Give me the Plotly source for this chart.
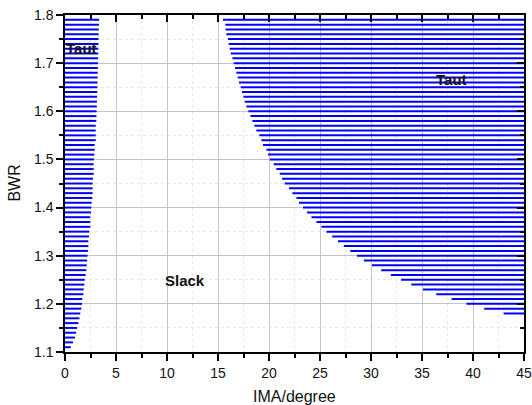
import plotly.graph_objects as go

# ---- data ----
y_left = [round(1.11 + 0.01 * i, 2) for i in range(69)]  # 1.11 .. 1.79
x_left_end = [0.56, 0.78, 0.98, 1.08, 1.18, 1.31, 1.41, 1.50, 1.60, 1.67,
              1.70, 1.80, 1.83, 1.90, 1.93, 2.03, 2.09, 2.13, 2.17, 2.21,
              2.25, 2.29, 2.29, 2.35, 2.38, 2.48, 2.48, 2.48, 2.55, 2.58,
              2.61, 2.68, 2.71, 2.71, 2.71, 2.75, 2.81, 2.81, 2.81, 2.84,
              2.88, 2.91, 2.91, 3.01, 3.01, 3.01, 3.01, 3.07, 3.08, 3.10,
              3.12, 3.13, 3.15, 3.16, 3.17, 3.19, 3.20, 3.21, 3.22, 3.24,
              3.25, 3.26, 3.27, 3.28, 3.29, 3.30, 3.31, 3.33, 3.35]

y_right = [round(1.18 + 0.01 * i, 2) for i in range(62)]  # 1.18 .. 1.79
x_right_start = [43.0, 41.1, 39.35, 37.9, 36.4, 35.1, 33.95, 32.95, 31.95, 31.0,
                 30.1, 29.3, 28.63, 27.97, 27.33, 26.76, 26.2, 25.63, 25.14, 24.65,
                 24.16, 23.73, 23.33, 22.94, 22.69, 22.29, 21.96, 21.54, 21.28, 21.05,
                 20.72, 20.46, 20.07, 19.9, 19.75, 19.41, 19.25, 19.05, 18.76, 18.57,
                 18.37, 18.18, 17.98, 17.78, 17.62, 17.49, 17.35, 17.23, 17.06, 16.93,
                 16.8, 16.67, 16.54, 16.41, 16.25, 16.15, 16.05, 15.98, 15.82, 15.75,
                 15.72, 15.49]

x_range = [0, 45]
y_range = [1.1, 1.8]
x_ticks = [0, 5, 10, 15, 20, 25, 30, 35, 40, 45]
y_ticks = [1.1, 1.2, 1.3, 1.4, 1.5, 1.6, 1.7, 1.8]

x_title = "IMA/degree"
y_title = "BWR"

labels = ["Taut", "Taut", "Slack"]
label_x = [1.64, 37.9, 11.8]
label_y = [1.73, 1.665, 1.248]

# ---- build segment traces ----
xs, ys = [], []
for y, xe in zip(y_left, x_left_end):
    xs += [x_range[0], xe, None]
    ys += [y, y, None]
for y, xs0 in zip(y_right, x_right_start):
    xs += [xs0, x_range[1], None]
    ys += [y, y, None]

BLUE = "#0000FF"
FONT = "Liberation Sans, Arial, sans-serif"

fig = go.Figure()
fig.add_trace(go.Scatter(x=xs, y=ys, mode="lines",
                         line=dict(color=BLUE, width=2),
                         connectgaps=False, hoverinfo="skip",
                         showlegend=False))

grid_c = "#c4c4c4"
minor_c = "#e6e6e6"

common = dict(showline=True, linecolor="black", linewidth=1.5,
              ticks="outside", ticklen=7, tickwidth=1.5, tickcolor="black",
              showgrid=True, gridcolor=grid_c, gridwidth=1,
              zeroline=False, automargin=False,
              tickfont=dict(family=FONT, size=14, color="#111"))

fig.update_layout(
    width=532, height=405,
    margin=dict(l=65, r=8, t=15, b=53),
    paper_bgcolor="white", plot_bgcolor="white",
    xaxis=dict(range=x_range, tickvals=x_ticks, **common,
               minor=dict(dtick=2.5, tick0=0, ticks="outside", ticklen=4,
                          tickwidth=1.5, tickcolor="black",
                          showgrid=True, gridcolor=minor_c, griddash="dot",
                          gridwidth=1)),
    yaxis=dict(range=y_range, tickvals=y_ticks, tickformat=".1f", **common,
               minor=dict(dtick=0.05, tick0=1.1, ticks="outside", ticklen=4,
                          tickwidth=1.5, tickcolor="black",
                          showgrid=True, gridcolor=minor_c, griddash="dot",
                          gridwidth=1)),
    xaxis2=dict(range=x_range, tickvals=x_ticks, overlaying="x", side="top",
                showline=True, linecolor="black", linewidth=1.5,
                ticks="inside", ticklen=7, tickwidth=1.5, tickcolor="black",
                showticklabels=False, showgrid=False, zeroline=False,
                automargin=False,
                minor=dict(dtick=2.5, tick0=0, ticks="inside", ticklen=4,
                           tickwidth=1.5, tickcolor="black", showgrid=False)),
    yaxis2=dict(range=y_range, tickvals=y_ticks, overlaying="y", side="right",
                showline=True, linecolor="black", linewidth=1.5,
                ticks="inside", ticklen=7, tickwidth=1.5, tickcolor="black",
                showticklabels=False, showgrid=False, zeroline=False,
                automargin=False,
                minor=dict(dtick=0.05, tick0=1.1, ticks="inside", ticklen=4,
                           tickwidth=1.5, tickcolor="black", showgrid=False)),
)

# invisible trace to activate the mirrored axes
fig.add_trace(go.Scatter(x=[None], y=[None], xaxis="x2", yaxis="y2",
                         mode="lines", showlegend=False, hoverinfo="skip"))

for t, x, y in zip(labels, label_x, label_y):
    fig.add_annotation(x=x, y=y, text="<b>%s</b>" % t, showarrow=False,
                       font=dict(family=FONT, size=15, color="#111"))

# axis titles
fig.add_annotation(x=0.5, y=-0.1335, xref="paper", yref="paper",
                   text=x_title, showarrow=False, yanchor="middle",
                   font=dict(family=FONT, size=16, color="#111"))
fig.add_annotation(x=-0.111, y=0.5, xref="paper", yref="paper",
                   text=y_title, showarrow=False, textangle=-90,
                   xanchor="center", yanchor="middle",
                   font=dict(family=FONT, size=16, color="#111"))

fig.write_html("out.html",
               config={"displayModeBar": False},
               post_script="document.body.style.margin='0';"
                           "document.body.style.overflow='hidden';")
